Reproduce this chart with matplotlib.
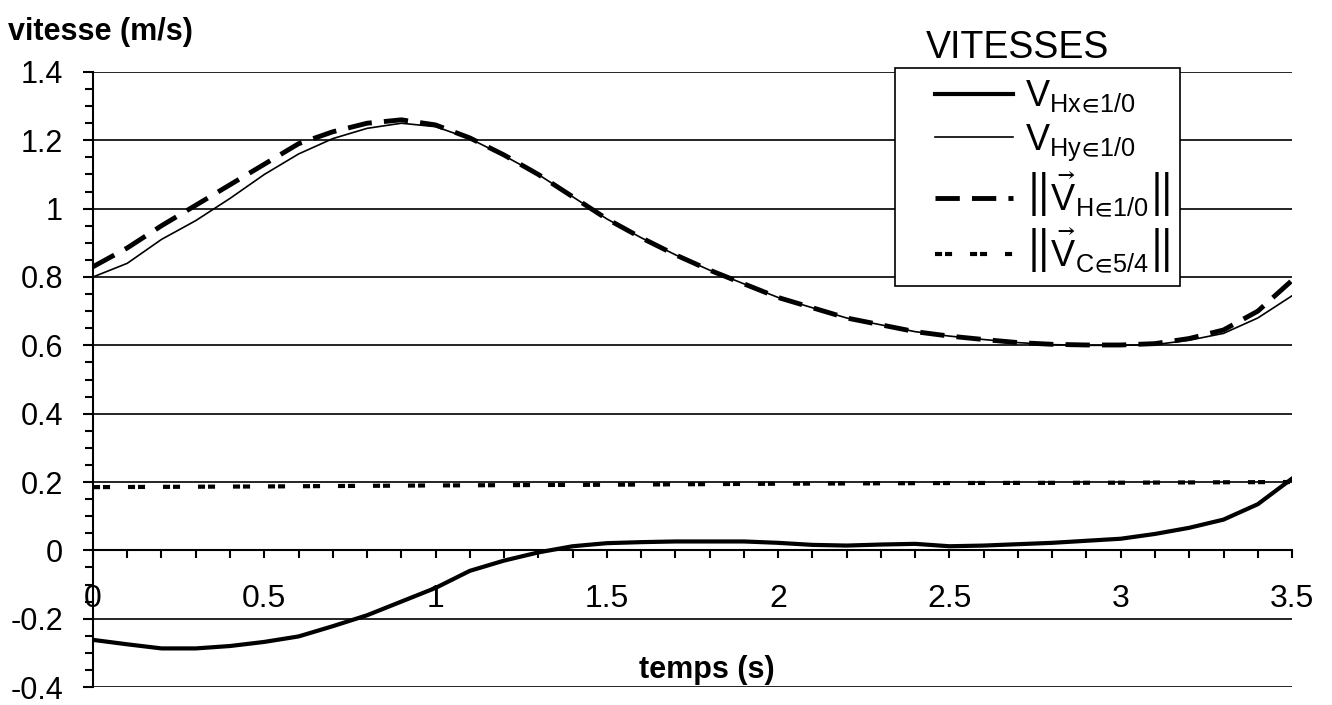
import matplotlib
matplotlib.use("Agg")
import matplotlib.pyplot as plt
from matplotlib.ticker import MultipleLocator, FuncFormatter
from matplotlib.legend_handler import HandlerLine2D

plt.rcParams['font.family'] = ['Liberation Sans', 'DejaVu Sans']
plt.rcParams['mathtext.fontset'] = 'custom'
plt.rcParams['mathtext.rm'] = 'Liberation Sans'
plt.rcParams['mathtext.it'] = 'Liberation Sans'
plt.rcParams['mathtext.fallback'] = 'stixsans'

# time (s)
t = [0.0, 0.1, 0.2, 0.3, 0.4, 0.5, 0.6, 0.7, 0.8, 0.9, 1.0, 1.1, 1.2, 1.3, 1.4, 1.5, 1.6, 1.7,
     1.8, 1.9, 2.0, 2.1, 2.2, 2.3, 2.4, 2.5, 2.6, 2.7, 2.8, 2.9, 3.0, 3.1, 3.2, 3.3, 3.4, 3.5]

# V Hx in 1/0
v_hx = [-0.262, -0.275, -0.287, -0.287, -0.280, -0.268, -0.252, -0.222, -0.190, -0.150,
        -0.110, -0.060, -0.030, -0.006, 0.012, 0.021, 0.024, 0.026, 0.026, 0.026,
        0.022, 0.016, 0.014, 0.017, 0.019, 0.012, 0.014, 0.018, 0.022, 0.028,
        0.034, 0.048, 0.066, 0.090, 0.135, 0.210]

# V Hy in 1/0
v_hy = [0.800, 0.840, 0.910, 0.965, 1.030, 1.100, 1.160, 1.205, 1.235, 1.250,
        1.240, 1.205, 1.155, 1.100, 1.035, 0.970, 0.915, 0.865, 0.820, 0.780,
        0.740, 0.710, 0.680, 0.660, 0.640, 0.627, 0.617, 0.608, 0.602, 0.600,
        0.600, 0.602, 0.615, 0.635, 0.680, 0.745]

# ||V H in 1/0||
v_h = [0.830, 0.885, 0.950, 1.010, 1.070, 1.130, 1.190, 1.225, 1.250, 1.260,
       1.245, 1.207, 1.157, 1.100, 1.035, 0.970, 0.915, 0.865, 0.820, 0.780,
       0.740, 0.710, 0.680, 0.660, 0.640, 0.627, 0.617, 0.608, 0.603, 0.601,
       0.601, 0.605, 0.620, 0.645, 0.700, 0.790]

# ||V C in 5/4||
t_c = [0.0, 0.5, 1.0, 1.5, 2.0, 2.5, 3.0, 3.5]
v_c = [0.185, 0.187, 0.190, 0.192, 0.195, 0.197, 0.198, 0.200]

labels = [r'$\mathrm{V_{Hx\!\in\!1/0}}$',
          r'$\mathrm{V_{Hy\!\in\!1/0}}$',
          r'$\left\|\vec{\mathrm{V}}_{\mathrm{H\!\in\!1/0}}\right\|$',
          r'$\left\|\vec{\mathrm{V}}_{\mathrm{C\!\in\!5/4}}\right\|$']

fig = plt.figure(figsize=(13.32, 7.05), dpi=100)
ax = fig.add_axes([0.0698, 0.0255, 0.9002, 0.8724])

l1, = ax.plot(t, v_hx, color='black', lw=3.0, zorder=3)
l2, = ax.plot(t, v_hy, color='black', lw=1.2, zorder=3)
l3, = ax.plot(t, v_h, color='black', lw=3.5, dashes=(5, 2.5), zorder=3)
l4, = ax.plot(t_c, v_c, color='black', lw=3.0, dashes=(1.7, 0.7, 1.7, 4.3), zorder=3)

ax.set_xlim(0, 3.5)
ax.set_ylim(-0.4, 1.4)

ax.spines['top'].set_visible(False)
ax.spines['right'].set_visible(False)
ax.spines['bottom'].set_position(('data', 0))
ax.spines['left'].set_linewidth(1.5)
ax.spines['bottom'].set_linewidth(1.5)

fmt = FuncFormatter(lambda v, p: '%g' % round(v, 2))
ax.xaxis.set_major_locator(MultipleLocator(0.5))
ax.xaxis.set_minor_locator(MultipleLocator(0.1))
ax.yaxis.set_major_locator(MultipleLocator(0.2))
ax.yaxis.set_minor_locator(MultipleLocator(0.05))
ax.xaxis.set_major_formatter(fmt)
ax.yaxis.set_major_formatter(fmt)

ax.tick_params(axis='x', which='both', direction='out', length=6, width=1.5, pad=18, labelsize=23)
ax.tick_params(axis='y', which='major', direction='out', length=7.5, width=1.5, pad=14, labelsize=22)
ax.tick_params(axis='y', which='minor', direction='out', length=6, width=1.5)

ax.yaxis.grid(True, which='major', color='black', lw=1.2)
ax.set_axisbelow(True)

ax.text(0.512, 0.028, 'temps (s)', transform=ax.transAxes, ha='center', va='center',
        fontsize=22, fontweight='bold')
fig.text(0.006, 1 - 32 / 705, 'vitesse (m/s)', ha='left', va='center',
         fontsize=22, fontweight='bold')

leg = ax.legend([l1, l2, l3, l4], labels, loc='upper left', bbox_to_anchor=(0.669, 1.0065),
                borderaxespad=0, fontsize=26, handlelength=2.96, handletextpad=0.33,
                labelspacing=0.2, borderpad=0.3, fancybox=False, framealpha=1,
                edgecolor='black', handler_map={l: HandlerLine2D(xpad=0.8) for l in [l1, l2, l3, l4]})
leg.get_frame().set_linewidth(1.2)
leg.set_zorder(5)

fig.text(1018 / 1332, 1 - 48 / 705, 'VITESSES', ha='center', va='center', fontsize=27)

fig.savefig('out.png', dpi=100)
